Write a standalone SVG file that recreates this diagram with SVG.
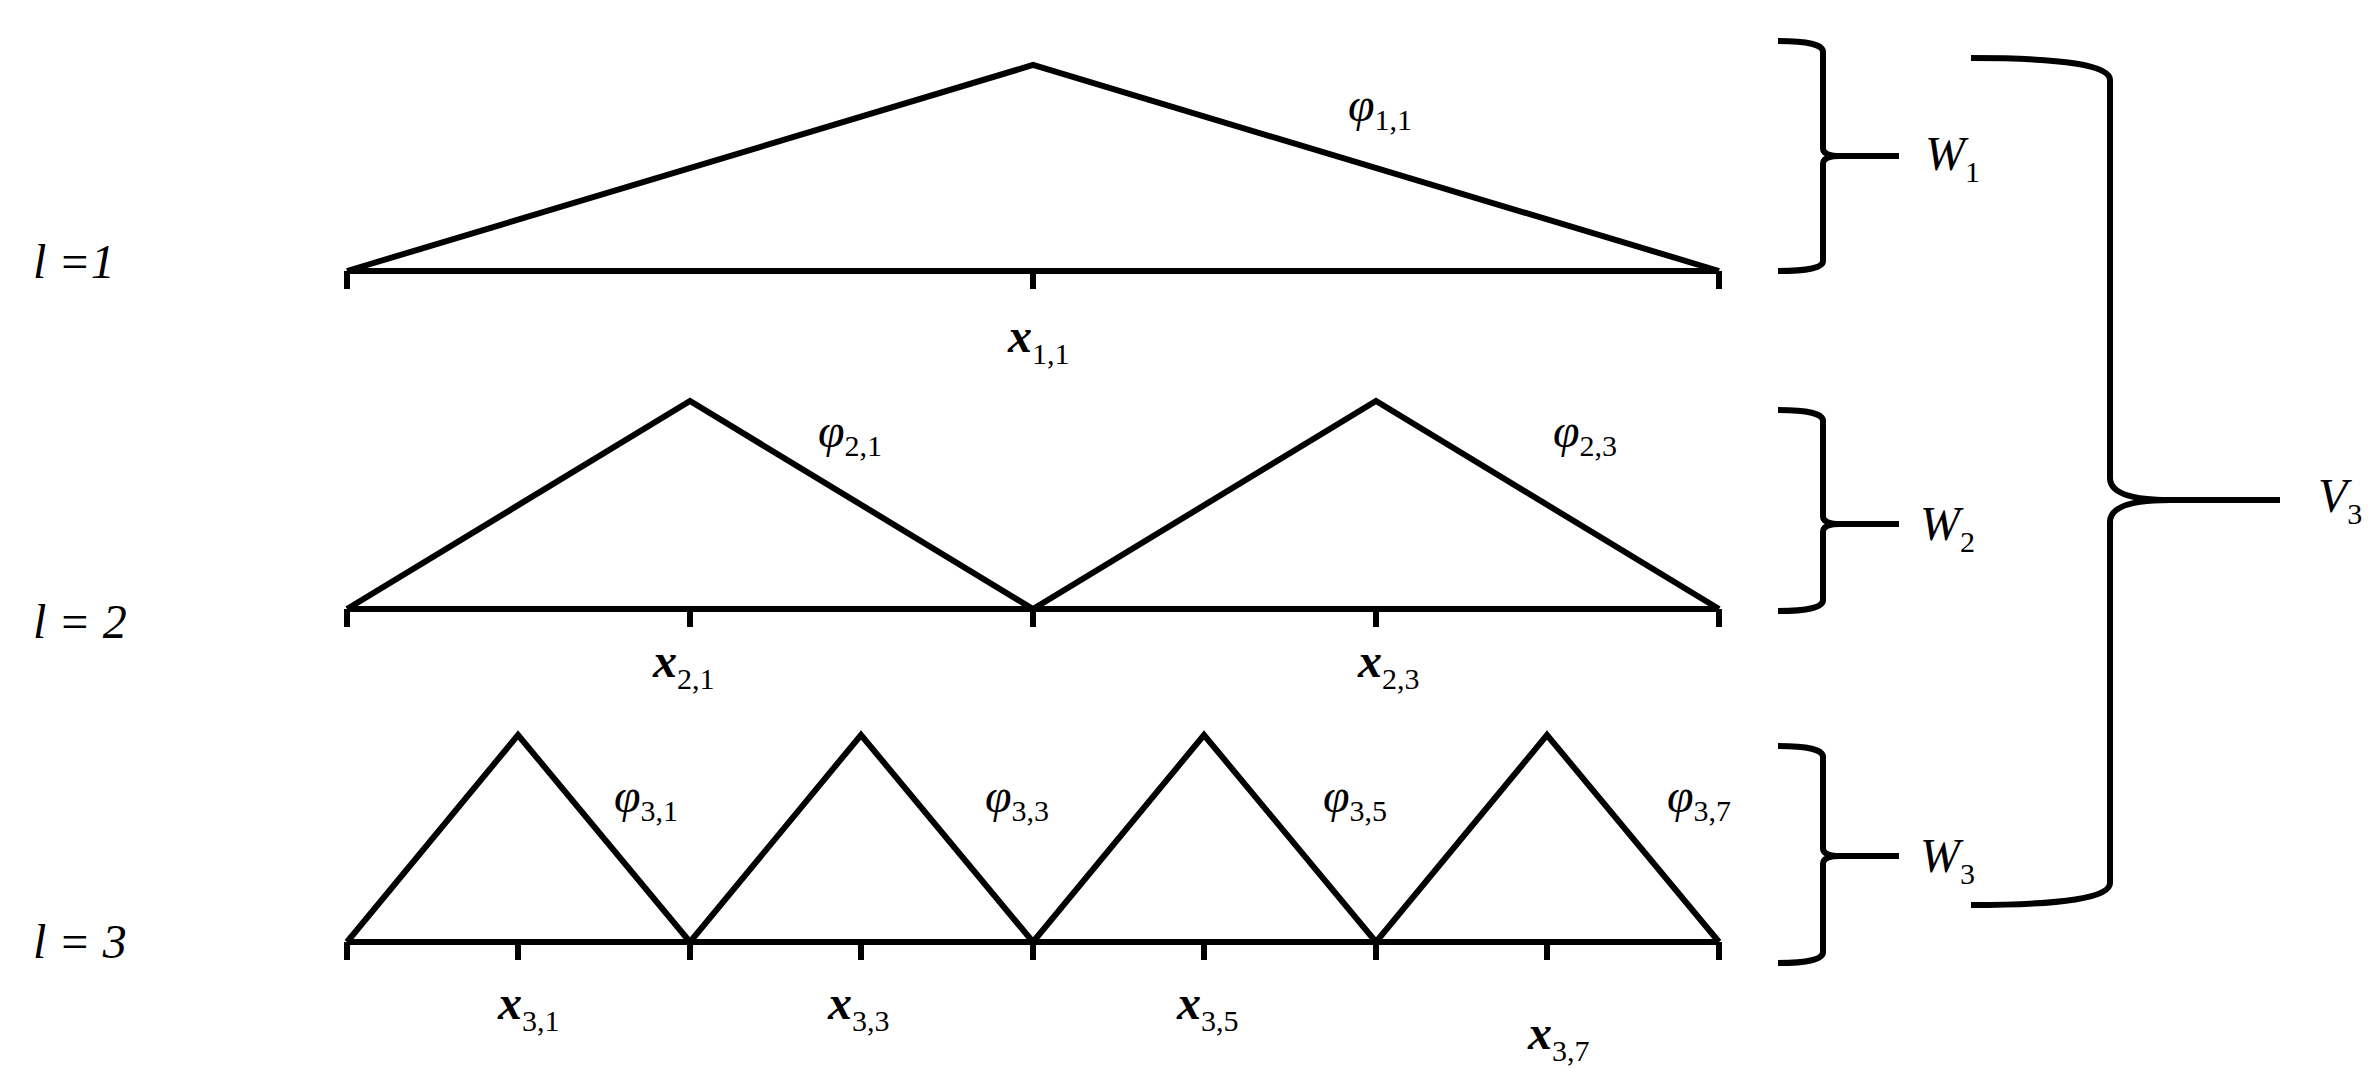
<svg xmlns="http://www.w3.org/2000/svg" width="2375" height="1083" viewBox="0 0 2375 1083">
<style>
.ln{fill:none;stroke:#000;stroke-width:6;stroke-linejoin:miter}
.br{fill:none;stroke:#000;stroke-width:6}
.t{font-family:"Liberation Serif","Times New Roman",serif;font-style:italic;font-size:48px;fill:#000}
.b{font-weight:bold}
.s{font-size:30px;font-style:normal;font-weight:normal}
</style>
<rect width="2375" height="1083" fill="#fff"/>
<g id="connectors">
<g id="level1">
<path class="ln" d="M347 271H1719M347 271V289M1033 271V289M1719 271V289"/>
<path class="ln" d="M347 271L1033 65L1719 271"/>
</g>
<g id="level2">
<path class="ln" d="M347 609H1719M347 609V627M690 609V627M1033 609V627M1376 609V627M1719 609V627"/>
<path class="ln" d="M347 609L690 401L1033 609L1376 401L1719 609"/>
</g>
<g id="level3">
<path class="ln" d="M347 942H1719M347 942V960M518 942V960M690 942V960M861 942V960M1033 942V960M1204 942V960M1376 942V960M1547 942V960M1719 942V960"/>
<path class="ln" d="M347 942L518 735L690 942L861 735L1033 942L1204 735L1376 942L1547 735L1719 942"/>
</g>
<g id="braces">
<path class="br" d="M1778 41Q1823 41 1823 52V148Q1823 156 1840 156H1899M1840 156Q1823 156 1823 164V261Q1823 271 1778 271"/>
<path class="br" d="M1778 410Q1823 410 1823 421V516Q1823 524 1840 524H1899M1840 524Q1823 524 1823 532V600Q1823 611 1778 611"/>
<path class="br" d="M1778 746Q1823 746 1823 757V848Q1823 856 1840 856H1899M1840 856Q1823 856 1823 864V952Q1823 963 1778 963"/>
<path class="br" d="M1971 58Q2110 58 2110 80V478Q2110 500 2170 500H2280M2170 500Q2110 500 2110 522V883Q2110 905 1971 905"/>
</g>
</g>
<g id="labels" class="t">
<text x="33" y="278">l =1</text>
<text x="33" y="638">l = 2</text>
<text x="33" y="958">l = 3</text>
<text x="1925" y="170">W<tspan class="s" dy="12">1</tspan></text>
<text x="1920" y="540">W<tspan class="s" dy="12">2</tspan></text>
<text x="1920" y="872">W<tspan class="s" dy="12">3</tspan></text>
<text x="2318" y="512">V<tspan class="s" dy="12">3</tspan></text>
<text x="1348" y="121">φ<tspan class="s" dy="9">1,1</tspan></text>
<text x="818" y="447">φ<tspan class="s" dy="9">2,1</tspan></text>
<text x="1553" y="447">φ<tspan class="s" dy="9">2,3</tspan></text>
<text x="614" y="812">φ<tspan class="s" dy="9">3,1</tspan></text>
<text x="985" y="812">φ<tspan class="s" dy="9">3,3</tspan></text>
<text x="1323" y="812">φ<tspan class="s" dy="9">3,5</tspan></text>
<text x="1667" y="812">φ<tspan class="s" dy="9">3,7</tspan></text>
<text class="b" x="1008" y="352">x<tspan class="s" dy="12">1,1</tspan></text>
<text class="b" x="653" y="677">x<tspan class="s" dy="12">2,1</tspan></text>
<text class="b" x="1358" y="677">x<tspan class="s" dy="12">2,3</tspan></text>
<text class="b" x="498" y="1019">x<tspan class="s" dy="12">3,1</tspan></text>
<text class="b" x="828" y="1019">x<tspan class="s" dy="12">3,3</tspan></text>
<text class="b" x="1177" y="1019">x<tspan class="s" dy="12">3,5</tspan></text>
<text class="b" x="1528" y="1049">x<tspan class="s" dy="12">3,7</tspan></text>
</g>
</svg>
